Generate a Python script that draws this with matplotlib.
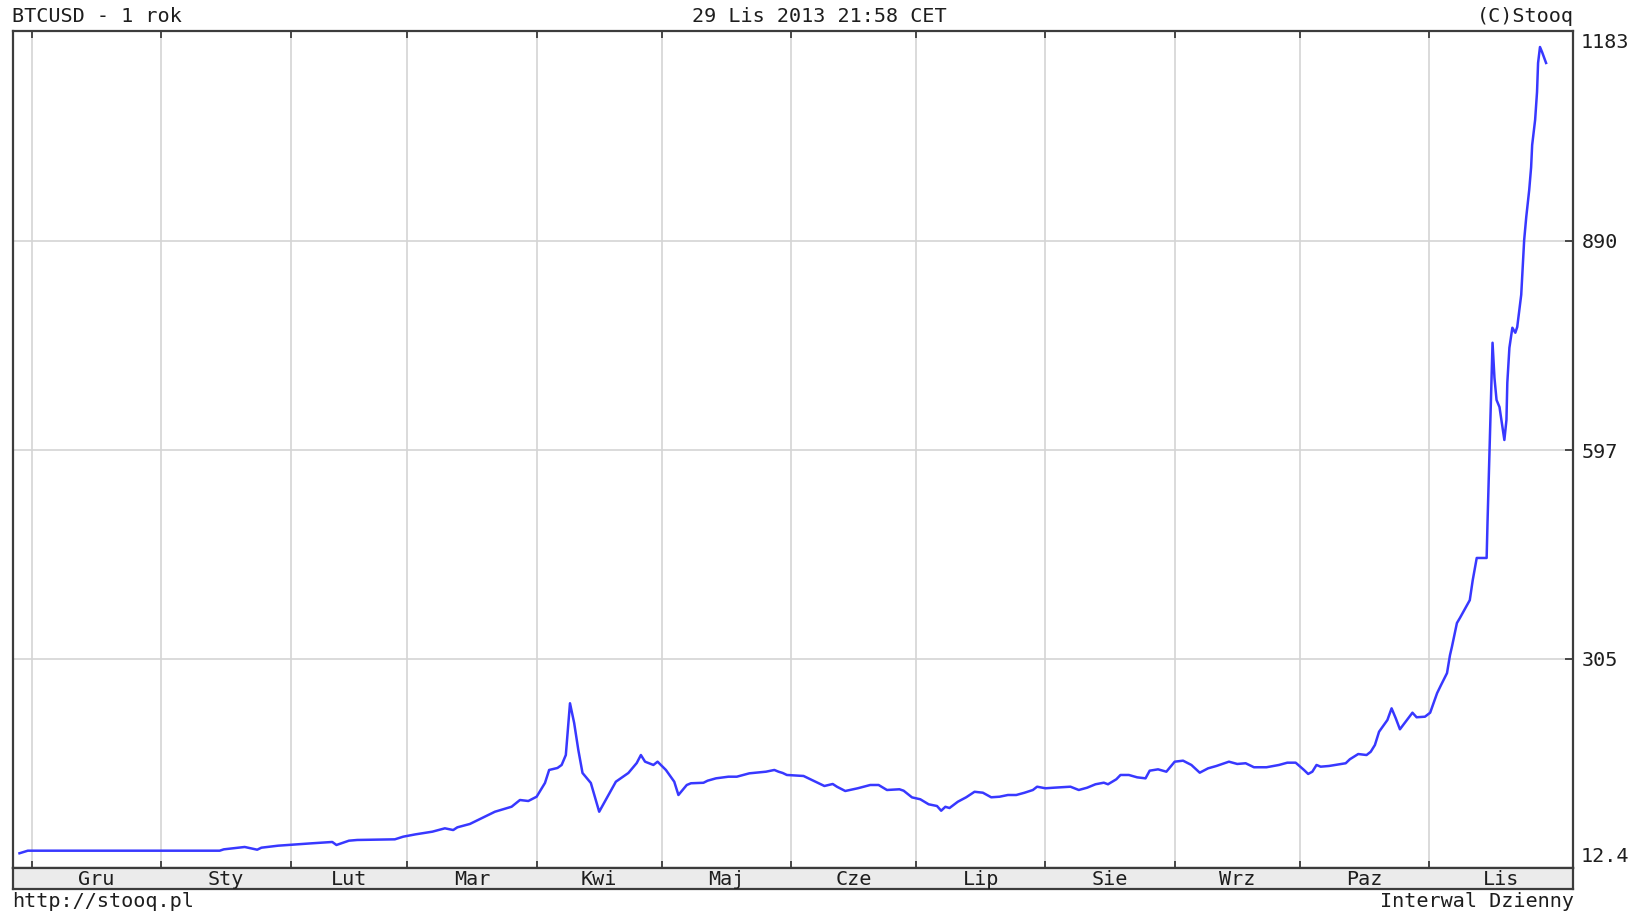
import numpy as np
import pandas as pd
import matplotlib
matplotlib.use("Agg")
from matplotlib import pyplot as plt
import matplotlib.dates as mdates

# BTCUSD daily close
dates = [
    '2012-11-28', '2012-11-30', '2012-12-20', '2013-01-15', '2013-01-16', '2013-01-21',
    '2013-01-24', '2013-01-25', '2013-01-29', '2013-02-06', '2013-02-11', '2013-02-12',
    '2013-02-15', '2013-02-17', '2013-02-26', '2013-02-28', '2013-03-03', '2013-03-07',
    '2013-03-10', '2013-03-12', '2013-03-13', '2013-03-16', '2013-03-22', '2013-03-26',
    '2013-03-28', '2013-03-30', '2013-04-01', '2013-04-03', '2013-04-04', '2013-04-06',
    '2013-04-07', '2013-04-08', '2013-04-09', '2013-04-10', '2013-04-11', '2013-04-12',
    '2013-04-14', '2013-04-16', '2013-04-18', '2013-04-20', '2013-04-23', '2013-04-25',
    '2013-04-26', '2013-04-27', '2013-04-29', '2013-04-30', '2013-05-02', '2013-05-04',
    '2013-05-05', '2013-05-07', '2013-05-08', '2013-05-11', '2013-05-12', '2013-05-14',
    '2013-05-17', '2013-05-19', '2013-05-22', '2013-05-26', '2013-05-28', '2013-05-29',
    '2013-05-30', '2013-05-31', '2013-06-04', '2013-06-06', '2013-06-09', '2013-06-11',
    '2013-06-12', '2013-06-14', '2013-06-17', '2013-06-20', '2013-06-22', '2013-06-24',
    '2013-06-27', '2013-06-28', '2013-06-30', '2013-07-02', '2013-07-04', '2013-07-06',
    '2013-07-07', '2013-07-08', '2013-07-09', '2013-07-11', '2013-07-13', '2013-07-15',
    '2013-07-17', '2013-07-19', '2013-07-21', '2013-07-23', '2013-07-25', '2013-07-27',
    '2013-07-29', '2013-07-30', '2013-08-01', '2013-08-03', '2013-08-07', '2013-08-09',
    '2013-08-11', '2013-08-13', '2013-08-15', '2013-08-16', '2013-08-18', '2013-08-19',
    '2013-08-21', '2013-08-23', '2013-08-25', '2013-08-26', '2013-08-28', '2013-08-30',
    '2013-09-01', '2013-09-03', '2013-09-05', '2013-09-07', '2013-09-09', '2013-09-11',
    '2013-09-14', '2013-09-16', '2013-09-18', '2013-09-20', '2013-09-23', '2013-09-26',
    '2013-09-28', '2013-09-30', '2013-10-02', '2013-10-03', '2013-10-04', '2013-10-05',
    '2013-10-06', '2013-10-08', '2013-10-11', '2013-10-12', '2013-10-13', '2013-10-15',
    '2013-10-17', '2013-10-18', '2013-10-19', '2013-10-20', '2013-10-22', '2013-10-23',
    '2013-10-24', '2013-10-25', '2013-10-27', '2013-10-28', '2013-10-29', '2013-10-31',
    '2013-11-01 06:00', '2013-11-02 22:00', '2013-11-03 20:00', '2013-11-05 07:00',
    '2013-11-06 00:00', '2013-11-06 11:00', '2013-11-07 16:00', '2013-11-08 09:00',
    '2013-11-10 18:00', '2013-11-11 11:00', '2013-11-12 10:00', '2013-11-14 19:00',
    '2013-11-15 00:00', '2013-11-15 12:00', '2013-11-15 23:00', '2013-11-16 05:00',
    '2013-11-16 16:00', '2013-11-17 04:00', '2013-11-17 21:00', '2013-11-18 14:00',
    '2013-11-19 01:00', '2013-11-19 13:00', '2013-11-19 18:00', '2013-11-20 06:00',
    '2013-11-20 23:00', '2013-11-21 16:00', '2013-11-22 03:00', '2013-11-22 15:00',
    '2013-11-23 02:00', '2013-11-23 19:00', '2013-11-24 07:00', '2013-11-25 00:00',
    '2013-11-25 11:00', '2013-11-25 17:00', '2013-11-26 10:00', '2013-11-26 21:00',
    '2013-11-27 03:00', '2013-11-27 14:00', '2013-11-28 02:00', '2013-11-29 01:00',
]
prices = [
    33.0, 36.6, 36.6, 36.6, 38.5, 41.8,
    38.0, 40.8, 43.6, 46.9, 48.8, 44.6,
    50.6, 51.6, 52.5, 56.2, 59.5, 63.2,
    67.9, 65.5, 69.3, 74.0, 91.1, 98.1,
    107.5, 106.1, 112.1, 131.3, 149.5, 152.3,
    156.5, 170.4, 242.8, 215.2, 177.4, 145.3,
    131.3, 91.1, 112.1, 133.1, 145.3, 159.2,
    170.4, 161.1, 156.5, 161.1, 149.5, 133.1,
    114.5, 128.5, 130.9, 131.6, 134.5, 137.8,
    140.1, 140.1, 144.8, 147.1, 149.5, 147.1,
    145.3, 142.5, 141.1, 135.5, 127.1, 129.9,
    126.1, 120.1, 123.9, 128.5, 128.5, 121.5,
    122.5, 120.5, 111.2, 108.5, 101.5, 99.1,
    92.5, 98.0, 96.3, 105.1, 111.3, 119.0,
    117.7, 111.3, 112.1, 114.5, 114.5, 117.7,
    121.5, 126.1, 123.9, 124.7, 126.1, 121.5,
    124.7, 129.5, 131.7, 129.5, 136.5, 142.5,
    142.5, 139.2, 137.8, 148.5, 150.4, 147.1,
    161.1, 162.5, 156.5, 145.7, 151.8, 155.1,
    161.1, 157.9, 158.9, 153.3, 153.3, 156.5,
    159.7, 159.7, 149.5, 143.9, 147.1, 156.5,
    154.1, 155.1, 157.9, 158.9, 164.5, 171.8,
    170.4, 175.0, 184.4, 203.0, 219.4, 235.7,
    221.8, 206.4, 221.8, 229.6, 223.2, 224.0,
    229.6, 257.0, 268.0, 285.0,
    310.0, 321.5, 355.0, 362.0,
    387.0, 415.0, 446.0, 446.0,
    495.0, 597.0, 695.0, 747.0,
    698.0, 667.0, 657.0, 629.0,
    611.0, 639.0, 691.0, 740.0,
    768.0, 761.0, 769.0, 793.0,
    814.0, 890.7, 922.9, 960.7,
    992.5, 1023.6, 1058.6, 1097.7,
    1138.3, 1160.6, 1153.6, 1138.3,
]

months = ['Gru', 'Sty', 'Lut', 'Mar', 'Kwi', 'Maj', 'Cze', 'Lip', 'Sie', 'Wrz', 'Paz', 'Lis']
month_starts = pd.date_range('2012-12-01', '2013-11-01', freq='MS')
y_ticks = [12.4, 305, 597, 890, 1183]

x_left = pd.Timestamp('2012-11-26 08:24')
x_right = pd.Timestamp('2013-12-05 12:00')

FONT = 'DejaVu Sans Mono'
TXT = '#1e1e1e'
FRAME = '#3c3c3c'
GRID = '#d4d4d4'
FS = 14.5

W, H = 1643, 913
fig = plt.figure(figsize=(W / 100, H / 100), dpi=100)
fig.patch.set_facecolor('white')

# plot area and month band, in pixels
px_l, px_r, px_t, px_b, px_band = 12.6, 1573, 31, 868, 889
ax = fig.add_axes([px_l / W, 1 - px_b / H, (px_r - px_l) / W, (px_b - px_t) / H])
band = fig.add_axes([px_l / W, 1 - px_band / H, (px_r - px_l) / W, (px_band - px_b) / H])

x = pd.to_datetime(dates, format='mixed')
ax.plot(x, prices, color='#3838ff', lw=1.8, solid_joinstyle='round')

ax.set_xlim(x_left, x_right)
ax.set_ylim(y_ticks[0], y_ticks[-1])
ax.set_xticks(month_starts)
ax.set_yticks(y_ticks[1:-1])
ax.set_yticklabels([str(v) for v in y_ticks[1:-1]])
ax.grid(True, color=GRID, lw=1.2)
ax.set_axisbelow(True)
ax.tick_params(axis='x', direction='in', top=True, bottom=True, length=5,
               width=1.3, color=FRAME, labelbottom=False)
ax.tick_params(axis='y', direction='in', left=False, right=True, length=6,
               width=1.3, color=FRAME, labelleft=False, labelright=True, pad=6,
               labelsize=FS, labelcolor=TXT)
for lbl in ax.get_yticklabels():
    lbl.set_fontfamily(FONT)
for s in ax.spines.values():
    s.set_color(FRAME)
    s.set_linewidth(1.6)

# extreme values sit inside the frame corners
ax.annotate(str(y_ticks[-1]), xy=(1, 1), xycoords='axes fraction', xytext=(8, -12),
            textcoords='offset pixels', ha='left', va='center', fontsize=FS,
            family=FONT, color=TXT)
ax.annotate(str(y_ticks[0]), xy=(1, 0), xycoords='axes fraction', xytext=(8, 12),
            textcoords='offset pixels', ha='left', va='center', fontsize=FS,
            family=FONT, color=TXT)

# month band
band.set_facecolor('#ebebeb')
band.set_xlim(x_left, x_right)
band.set_ylim(0, 1)
band.set_xticks([])
band.set_yticks([])
for s in band.spines.values():
    s.set_color(FRAME)
    s.set_linewidth(1.6)
edges = list(month_starts[1:]) + [x_right]
for name, a, b in zip(months, month_starts, edges):
    mid = a + (b - a) / 2
    band.text(mid, 0.45, name, ha='center', va='center', fontsize=FS, family=FONT, color=TXT)

# header / footer
def fx(px):
    return px / W

def fy(py):
    return 1 - py / H

fig.text(fx(12), fy(17), 'BTCUSD - 1 rok', ha='left', va='center', fontsize=FS, family=FONT, color=TXT)
fig.text(fx(819), fy(17), '29 Lis 2013 21:58 CET', ha='center', va='center', fontsize=FS, family=FONT, color=TXT)
fig.text(fx(1574), fy(17), '(C)Stooq', ha='right', va='center', fontsize=FS, family=FONT, color=TXT)
fig.text(fx(12), fy(901), 'http://stooq.pl', ha='left', va='center', fontsize=FS, family=FONT, color=TXT)
fig.text(fx(1574), fy(901), 'Interwal Dzienny', ha='right', va='center', fontsize=FS, family=FONT, color=TXT)

plt.savefig('out.png', dpi=100)
